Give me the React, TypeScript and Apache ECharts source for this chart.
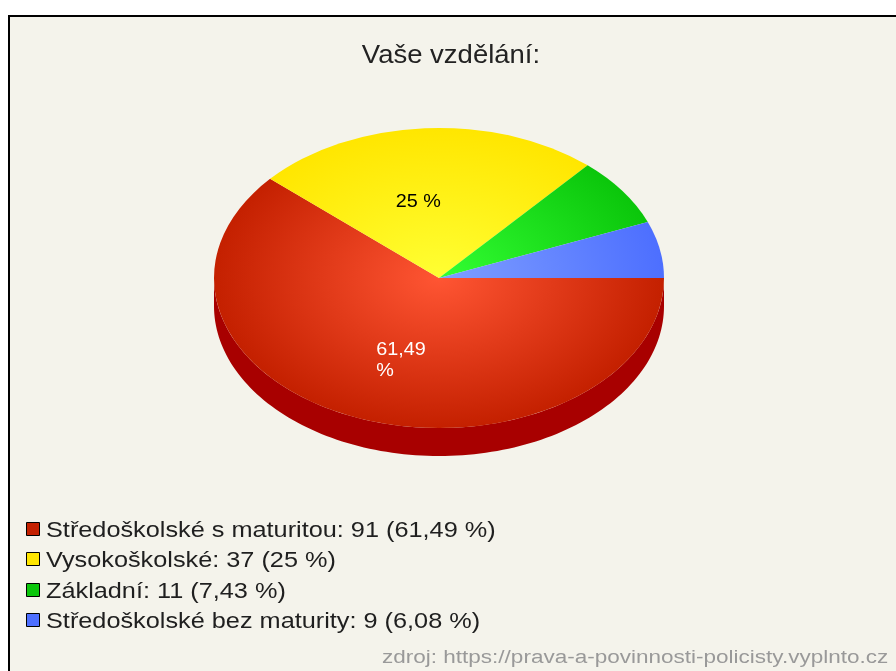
import React, { useEffect, useRef } from "react";
import * as echarts from "echarts";

const titleText = "Vaše vzdělání:";
const sourceText = "zdroj: https://prava-a-povinnosti-policisty.vyplnto.cz";
const categories = ["Středoškolské s maturitou", "Vysokoškolské", "Základní", "Středoškolské bez maturity"];
const counts = [91, 37, 11, 9];
const percentLabels = ["61,49 %", "25 %", "7,43 %", "6,08 %"];
const sliceLabels = ["61,49\n%", "25 %", "", ""];
const innerColors = ["#FF5533", "#FFFF33", "#33FF33", "#7F9FFF"];
const outerColors = ["#C42000", "#FFE600", "#0BC60B", "#4D6FFF"];
const legendColors = ["#C42000", "#FFE600", "#0BC60B", "#4D6FFF"];
const sideColors = ["#A80000", "#B0A000", "#008000", "#2040C0"];
const labelOffsets = [[-23, -10], [-36, -13], [0, 0], [0, 0]];
const FONT = '"Liberation Sans", Arial, sans-serif';

const CX = 439, CY = 278, RX = 225, RY = 150, DEPTH = 28;
const total = counts.reduce((a, b) => a + b, 0);

function renderSlice(params: any, api: any) {
  const i = params.dataIndex;
  let before = 0;
  for (let k = 0; k < i; k++) before += counts[k];
  const a0 = (before / total) * Math.PI * 2;
  const a1 = ((before + api.value(0)) / total) * Math.PI * 2;
  const children: any[] = [];
  const s = Math.max(a0, 0), e = Math.min(a1, Math.PI);
  if (e > s) {
    const up: number[][] = [], down: number[][] = [];
    const steps = 120;
    for (let t = 0; t <= steps; t++) {
      const a = s + ((e - s) * t) / steps;
      const x = CX + RX * Math.cos(a), y = CY + RY * Math.sin(a);
      up.push([x, y]);
      down.unshift([x, y + DEPTH]);
    }
    children.push({
      type: "polygon",
      shape: { points: up.concat(down) },
      style: { fill: sideColors[i] },
    });
  }
  children.push({
    type: "sector",
    x: CX,
    y: CY,
    scaleY: RY / RX,
    shape: { cx: 0, cy: 0, r: RX, r0: 0, startAngle: a0, endAngle: a1, clockwise: true },
    style: {
      fill: {
        type: "radial",
        x: 0,
        y: 0,
        r: RX,
        global: true,
        colorStops: [
          { offset: 0, color: innerColors[i] },
          { offset: 1, color: outerColors[i] },
        ],
      },
    },
  });
  return { type: "group", children };
}

function renderLabel(params: any, api: any) {
  const i = params.dataIndex;
  let before = 0;
  for (let k = 0; k < i; k++) before += counts[k];
  const mid = ((before + api.value(0) / 2) / total) * Math.PI * 2;
  return {
    type: "text",
    x: CX + (RX / 2) * Math.cos(mid) + labelOffsets[i][0],
    y: CY + (RY / 2) * Math.sin(mid) + labelOffsets[i][1],
    scaleX: 1.1,
    style: {
      text: sliceLabels[i],
      fill: i === 0 ? "#FFFFFF" : "#000000",
      font: `18px ${FONT}`,
      lineHeight: 21,
      textAlign: "left",
      textVerticalAlign: "top",
    },
  };
}

export default function App() {
  const ref = useRef<HTMLDivElement>(null);
  useEffect(() => {
    document.body.style.margin = "0";
    const chart = echarts.init(ref.current!, undefined, { renderer: "svg" });
    const legendRows = categories.flatMap((name, i) => {
      const y = [529, 559, 590, 620][i];
      return [
        {
          type: "rect",
          shape: { x: 26.5, y: y - 6.5, width: 13, height: 13 },
          style: { fill: legendColors[i], stroke: "#000", lineWidth: 1 },
        },
        {
          type: "text",
          x: 46,
          y: y + 1,
          scaleX: 1.15,
          style: {
            text: `${name}: ${counts[i]} (${percentLabels[i]})`,
            fill: "#1f1f1f",
            font: `22px ${FONT}`,
            textVerticalAlign: "middle",
          },
        },
      ];
    });
    chart.setOption({
      animation: false,
      graphic: {
        elements: [
          {
            type: "rect",
            z: -10,
            shape: { x: 9, y: 16, width: 900, height: 670 },
            style: { fill: "#F4F3EB", stroke: "#000", lineWidth: 2 },
          },
          {
            type: "text",
            x: 451,
            y: 54,
            scaleX: 1.1,
            style: {
              text: titleText,
              fill: "#222",
              font: `25px ${FONT}`,
              textAlign: "center",
              textVerticalAlign: "middle",
            },
          },
          ...legendRows,
          {
            type: "text",
            x: 382,
            y: 656,
            scaleX: 1.185,
            style: {
              text: sourceText,
              fill: "#999",
              font: `19px ${FONT}`,
              textVerticalAlign: "middle",
            },
          },
        ],
      },
      series: [
        { type: "custom", coordinateSystem: "none", renderItem: renderSlice, data: counts, z: 2 },
        { type: "custom", coordinateSystem: "none", renderItem: renderLabel, data: counts, z: 3 },
      ],
    });
    return () => chart.dispose();
  }, []);
  return <div ref={ref} style={{ position: "fixed", left: 0, top: 0, width: 896, height: 671, filter: "blur(0.5px)" }} />;
}
